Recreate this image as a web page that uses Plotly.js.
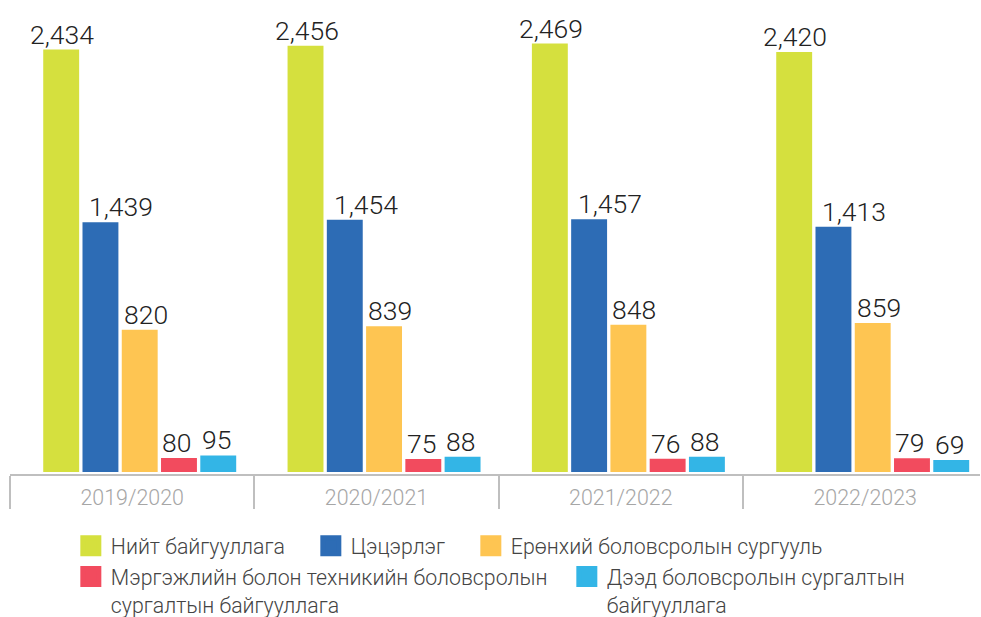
<!DOCTYPE html>
<html>
<head>
<meta charset="utf-8">
<script src="https://cdn.plot.ly/plotly-3.0.1.min.js"></script>
<style>html,body{margin:0;padding:0;background:#fff;}#chart{width:981px;height:617px;}</style>
</head>
<body>
<div id="chart"></div>
<script>
var years = ["2019/2020", "2020/2021", "2021/2022", "2022/2023"];
var seriesNames = [
  "Нийт байгууллага",
  "Цэцэрлэг",
  "Ерөнхий боловсролын сургууль",
  "Мэргэжлийн болон техникийн боловсролын<br>сургалтын байгууллага",
  "Дээд боловсролын сургалтын<br>байгууллага"
];
var total = [2434, 2456, 2469, 2420];
var kindergarten = [1439, 1454, 1457, 1413];
var generalSchool = [820, 839, 848, 859];
var vocational = [80, 75, 76, 79];
var higherEd = [95, 88, 88, 69];

var seriesValues = [total, kindergarten, generalSchool, vocational, higherEd];
var colors = ["#D5E03E", "#2D6CB5", "#FEC552", "#F24B5E", "#33B5E6"];

// styling / layout helpers
var legendGroupOf = ["legend", "legend", "legend", "legend2", "legend2"];
var legendWidths = [195, 115, 340, 451, 300];
var labelShiftPx = [1, 21, 6, -2, -2];
var FONT = "Roboto, 'Noto Sans', sans-serif";
var barW = 0.147, step = 0.1607, off0 = -0.364;
var xRange = [-0.5, 3.47];
var plotW = 981 - 10 - 1;
var pxPerCat = plotW / (xRange[1] - xRange[0]);

var fmt = function (v) { return v.toLocaleString("en-US"); };

var traces = [];
var annotations = [];
seriesValues.forEach(function (vals, i) {
  traces.push({
    type: "bar",
    x: years,
    y: vals,
    name: seriesNames[i],
    showlegend: false,
    width: barW,
    offset: off0 + i * step,
    marker: { color: colors[i] },
    hoverinfo: "skip"
  });
  var shift = (off0 + i * step + barW / 2) * pxPerCat + labelShiftPx[i];
  vals.forEach(function (v, j) {
    annotations.push({
      x: years[j],
      y: v,
      xref: "x",
      yref: "y",
      text: fmt(v),
      showarrow: false,
      xanchor: "center",
      yanchor: "bottom",
      xshift: shift,
      yshift: -1,
      borderpad: 0,
      font: { family: FONT, size: 26.5, color: "#222222", weight: 300 }
    });
  });
});
seriesNames.forEach(function (nm, i) {
  traces.push({
    type: "scatter",
    mode: "markers",
    x: [null],
    y: [null],
    name: nm,
    legend: legendGroupOf[i],
    legendwidth: legendWidths[i],
    marker: { symbol: "square", size: 16, color: colors[i], line: { color: colors[i], width: 5 } },
    hoverinfo: "skip"
  });
});

var legendBase = {
  orientation: "h",
  xref: "container",
  yref: "container",
  x: 0.0722,
  xanchor: "left",
  yanchor: "top",
  valign: "top",
  font: { family: FONT, size: 21.3, color: "#444444", weight: 300 },
  bgcolor: "rgba(0,0,0,0)"
};

var layout = {
  width: 981,
  height: 617,
  margin: { l: 10, r: 1, t: 0, b: 143 },
  paper_bgcolor: "#ffffff",
  plot_bgcolor: "#ffffff",
  barmode: "overlay",
  font: { family: FONT, size: 21, color: "#444444", weight: 300 },
  xaxis: {
    type: "category",
    range: xRange,
    showline: true,
    linecolor: "#BFBFBF",
    linewidth: 2,
    ticks: "outside",
    tickson: "boundaries",
    ticklen: 33,
    tickwidth: 2,
    tickcolor: "#BFBFBF",
    ticklabelstandoff: 3,
    tickfont: { family: FONT, size: 21.4, color: "#A6A6A6", weight: 300 },
    showgrid: false,
    zeroline: false,
    fixedrange: true
  },
  yaxis: {
    range: [-12, 2720],
    visible: false,
    showgrid: false,
    zeroline: false,
    fixedrange: true
  },
  annotations: annotations,
  legend: Object.assign({}, legendBase, { y: 0.1483 }),
  legend2: Object.assign({}, legendBase, { y: 0.0985 }),
  showlegend: true
};

Plotly.newPlot("chart", traces, layout, { displayModeBar: false, staticPlot: true });
</script>
</body>
</html>
